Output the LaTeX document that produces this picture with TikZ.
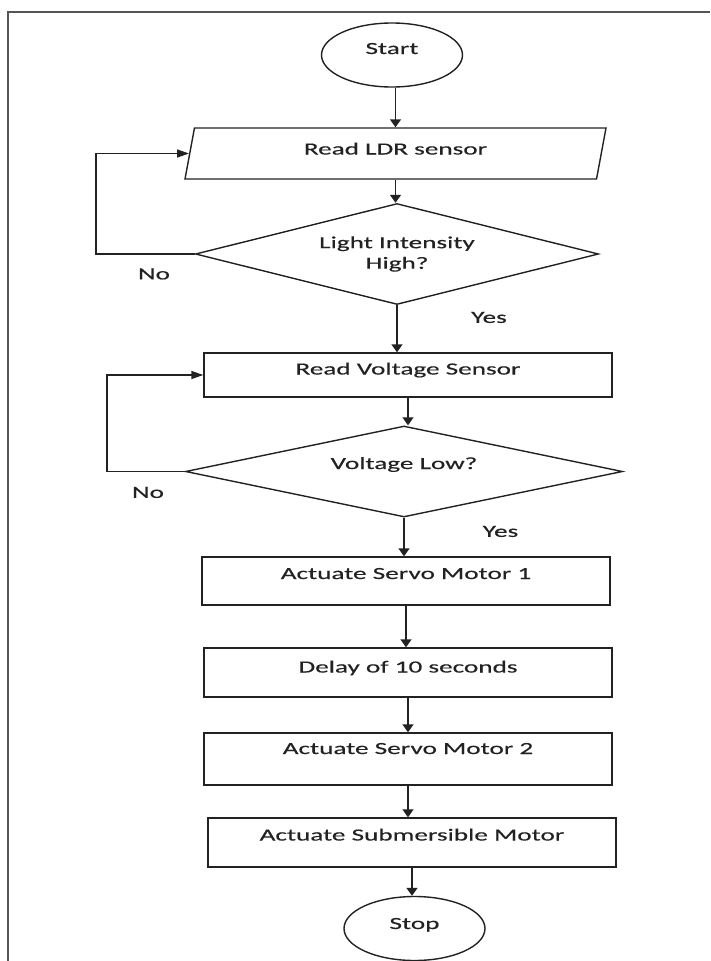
\documentclass[tikz,border=0pt]{standalone}
\usepackage{fontspec}
\setmainfont[FakeStretch=1.6,FakeBold=0.4]{Carlito}
\usetikzlibrary{shapes.geometric,arrows.meta}
\definecolor{flowline}{HTML}{222222}
\definecolor{framegray}{HTML}{555555}

\begin{document}
\begin{tikzpicture}[x=1pt,y=1pt,yscale=-1,xscale=1,
	every node/.style={font=\fontsize{17pt}{20.5pt}\selectfont, text=flowline},
	terminal/.style={draw=flowline, line width=1.4pt, ellipse, minimum width=141pt, minimum height=64pt, inner sep=0pt, text height=12pt},
	inputbox/.style={draw=flowline, line width=1.4pt, trapezium, trapezium left angle=66.7, trapezium right angle=113.3, trapezium stretches body, minimum width=421pt, minimum height=51pt, inner sep=0pt, text height=12pt},
	decision/.style={draw=flowline, line width=1.4pt, diamond, aspect=4, inner sep=0pt, align=center},
	process/.style={draw=flowline, line width=1.4pt, rectangle, minimum width=408pt, inner sep=0pt, text height=12pt},
	flowarrow/.style={draw=flowline, line width=1.5pt, -{Triangle[length=8pt,width=11pt]}},
	looparrow/.style={draw=flowline, line width=1.5pt, -{Triangle[length=12pt,width=8pt]}}]
	\useasboundingbox (0,0) rectangle (710,961);

	% Frame
	\draw [framegray, line width=1.4pt] (8,961) -- (8,12) -- (710,12);

	% Text Node
	\node [terminal, text depth=14pt] (start) at (392,55) {Start};
	% Text Node
	\node [inputbox, text depth=10pt] (ldr) at (395.5,153.5) {Read LDR sensor};
	% Text Node
	\node [decision, minimum width=403pt, minimum height=101pt] (lightchk) at (397,254) {Light Intensity\\High?};
	% Text Node
	\node [process, minimum height=44pt, text depth=13pt] (voltread) at (408,375) {Read Voltage Sensor};
	% Text Node
	\node [decision, minimum width=437pt, minimum height=91pt, text height=12pt, text depth=17pt] (voltchk) at (404,471.5) {Voltage Low?};
	% Text Node
	\node [process, minimum height=48pt, text depth=16pt] (servoa) at (406,581) {Actuate Servo Motor 1};
	% Text Node
	\node [process, minimum height=49pt, text depth=12pt] (delay) at (408,672.5) {Delay of 10 seconds};
	% Text Node
	\node [process, minimum height=52pt, text depth=22pt] (servob) at (408,759) {Actuate Servo Motor 2};
	% Text Node
	\node [process, minimum height=49pt, text depth=16pt] (submotor) at (412,842.5) {Actuate Submersible Motor};
	% Text Node
	\node [terminal, text depth=11pt] (stop) at (414.5,928.5) {Stop};

	% Text Node
	\node (nolight) at (154,274) {No};
	% Text Node
	\node (yeslight) at (489,317.5) {Yes};
	% Text Node
	\node (novolt) at (148,492.5) {No};
	% Text Node
	\node (yesvolt) at (500.5,531.5) {Yes};

	% Connection
	\draw [flowarrow] (ldr.north |- start.south) -- (ldr.north);
	% Connection
	\draw [flowarrow] (ldr.south) -- (ldr.south |- lightchk.north);
	% Connection
	\draw [flowarrow] (lightchk.south) -- (lightchk.south |- voltread.north);
	% Connection
	\draw [flowarrow] (voltread.south) -- (voltread.south |- voltchk.north);
	% Connection
	\draw [flowarrow] (voltchk.south) -- (voltchk.south |- servoa.north);
	% Connection
	\draw [flowarrow] (servoa.south) -- (servoa.south |- delay.north);
	% Connection
	\draw [flowarrow] (delay.south) -- (delay.south |- servob.north);
	% Connection
	\draw [flowarrow] (servob.south) -- (servob.south |- submotor.north);
	% Connection
	\draw [flowarrow] (submotor.south) -- (submotor.south |- stop.north);
	% Connection
	\draw [looparrow] (lightchk.west) -- ++(-99,0) |- (ldr);
	% Connection
	\draw [looparrow] (voltchk.west) -- ++(-78,0) |- (voltread);

\end{tikzpicture}
\end{document}
